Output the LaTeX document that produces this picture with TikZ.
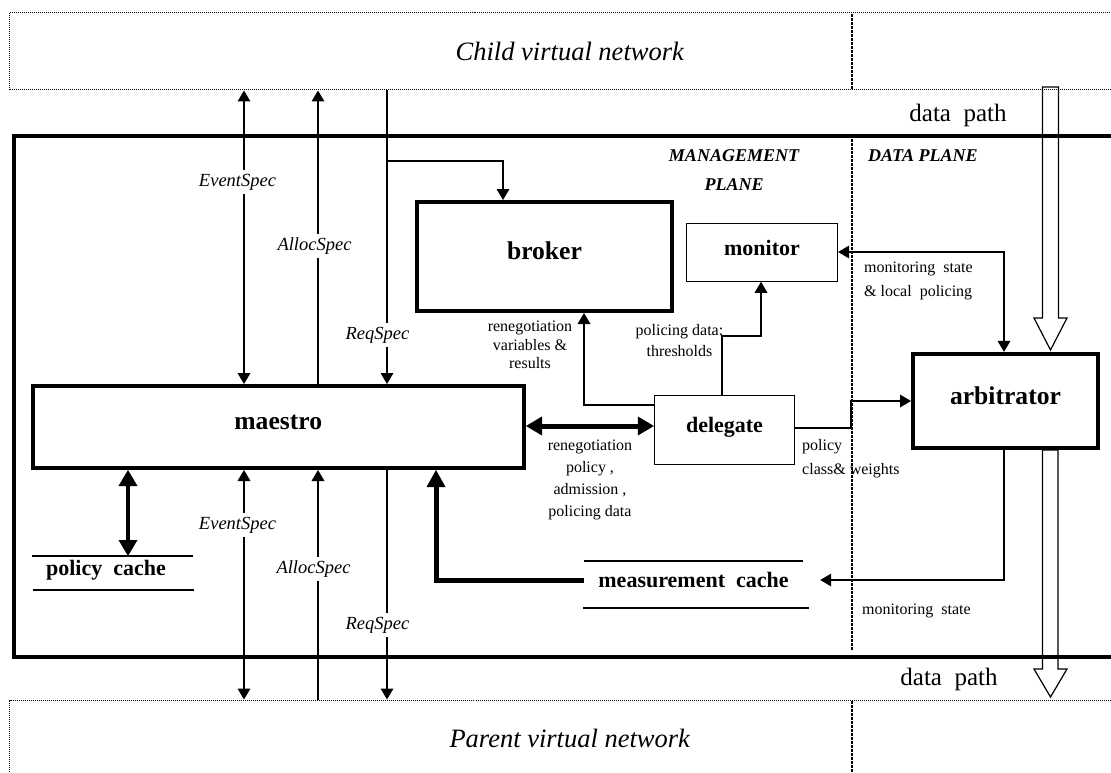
\documentclass[tikz,border=0pt]{standalone}
\usepackage{fontspec}
\setmainfont{Liberation Serif}
\usetikzlibrary{arrows.meta}

\tikzset{
  netbox/.style={draw, line width=1pt, dash pattern=on 1pt off 1pt, inner sep=0pt,
                 font=\fontsize{26.5}{30}\selectfont\itshape},
  planeline/.style={line width=2pt, dash pattern=on 3pt off 1pt},
  frame/.style={draw, line width=4pt, inner sep=0pt},
  block/.style={draw, line width=4pt, inner sep=0pt, text height=0.7em, text depth=0.12em,
                font=\fontsize{25.6}{28}\selectfont\bfseries},
  unit/.style={draw, line width=1.2pt, inner sep=0pt, text height=0.7em, text depth=0.12em,
               font=\fontsize{22}{26}\selectfont\bfseries},
  cache/.style={inner sep=0pt, font=\fontsize{22}{26}\selectfont\bfseries},
  spec/.style={fill=white, inner xsep=1pt, inner ysep=4pt,
               font=\fontsize{18.5}{22}\selectfont\itshape},
  note/.style={inner sep=0pt, font=\fontsize{16}{#1}\selectfont},
  note/.default=20pt,
  plane/.style={inner sep=0pt, font=\fontsize{18}{29}\selectfont\bfseries\itshape},
  pathlbl/.style={inner sep=0pt, font=\fontsize{25}{28}\selectfont},
  flow/.style={line width=1.2pt},
  heavy/.style={line width=5pt},
  fwd/.style={-{Triangle[length=11pt,width=13pt,line width=0pt]}},
  both/.style={{Triangle[length=11pt,width=13pt,line width=0pt]}-{Triangle[length=11pt,width=13pt,line width=0pt]}},
  heavyfwd/.style={-{Triangle[length=17pt,width=19pt,line width=0pt]}},
  heavyboth/.style={{Triangle[length=16pt,width=19pt,line width=0pt]}-{Triangle[length=16pt,width=19pt,line width=0pt]}},
  hollow/.style={line width=1.2pt, line join=miter}
}

\begin{document}
\begin{tikzpicture}[x=1pt,y=-1pt]
\useasboundingbox (0,0) rectangle (1111,773);
\clip (0,0) rectangle (1111,773);

% surrounding networks and the router frame
\node[netbox, minimum width=1120.5pt, minimum height=77pt] (child) at (569.75,51.5) {Child virtual network};
\node[netbox, minimum width=1120.5pt, minimum height=76pt] (parent) at (569.75,738) {Parent virtual network};
\node[frame, minimum width=1111pt, minimum height=520.5pt] (frame) at (569.5,396.75) {};

% management / data plane separator
\draw[planeline] (852,14) -- (852,90);
\draw[planeline] (852,139) -- (852,651);
\draw[planeline] (852,701) -- (852,773);

\node[plane, align=center] (mgmt) at (734,170.5) {MANAGEMENT\\PLANE};
\node[plane, anchor=west] (dataplane) at (868,156) {DATA PLANE};

% components
\node[block, minimum width=255pt, minimum height=109pt] (broker) at (544.5,256.5) {broker};
\node[block, minimum width=491.5pt, minimum height=82pt] (maestro) at (278.25,427) {maestro};
\node[block, text depth=0pt, minimum width=185pt, minimum height=94.3pt] (arbitrator) at (1005.5,401) {arbitrator};
\node[unit, minimum width=151pt, minimum height=58pt] (monitor) at (762,252.2) {monitor};
\node[unit, minimum width=140pt, minimum height=69pt] (delegate) at (724.5,430) {delegate};

% data stores
\node[cache] (pcache) at (106,570) {policy~ cache};
\draw[flow] (32,556) -- (193,556);
\draw[flow] (33,590) -- (194,590);
\node[cache, minimum width=219pt] (mcache) at (693.5,580) {measurement~ cache};
\draw[flow] (584,561) -- (803,561);
\draw[flow] (583,608) -- (809,608);

% data path
\draw[hollow] (1042.5,87) -- (1042.5,318) -- (1034,318) -- (1050.5,350) -- (1067,318) -- (1058.5,318) -- (1058.5,87) -- cycle;
\draw[hollow] (1042.5,450) -- (1042.5,669) -- (1034,669) -- (1050.5,697) -- (1067,669) -- (1058,669) -- (1058,450) -- cycle;
\node[pathlbl] (dptop) at (958,115) {data~ path};
\node[pathlbl] (dpbot) at (949,679) {data~ path};

% specification channels
\coordinate (xE) at (244,0);
\coordinate (xA) at (318,0);
\coordinate (xR) at (387,0);
\draw[flow, both] (maestro.north -| xE) -- (child.south -| xE);
\draw[flow, fwd] (maestro.north -| xA) -- (child.south -| xA);
\draw[flow, fwd] (child.south -| xR) -- (maestro.north -| xR);
\coordinate (rb) at (387,161);
\coordinate (rb2) at (503,161);
\draw[flow, fwd] (rb) -- (rb2) -- (broker.north -| rb2);
\draw[flow, both] (maestro.south -| xE) -- (parent.north -| xE);
\draw[flow, fwd] (parent.north -| xA) -- (maestro.south -| xA);
\draw[flow, fwd] (maestro.south -| xR) -- (parent.north -| xR);

\node[spec] (ev1) at (237.5,182) {EventSpec};
\node[spec] (al1) at (314.5,246) {AllocSpec};
\node[spec] (rq1) at (377.5,335) {ReqSpec};
\node[spec] (ev2) at (237.5,525) {EventSpec};
\node[spec] (al2) at (313.5,569) {AllocSpec};
\node[spec] (rq2) at (377.5,625) {ReqSpec};

% heavy control links
\coordinate (hy) at (0,426);
\draw[heavy, heavyboth] (maestro.east |- hy) -- (delegate.west |- hy);
\coordinate (pc) at (128,556);
\draw[line width=4.5pt, heavyboth] (maestro.south -| pc) -- (pc);
\coordinate (mx) at (436,0);
\draw[heavy, heavyfwd] (mcache.west) -| (maestro.south -| mx);

% delegate links
\coordinate (bk) at (584,405);
\draw[flow, fwd] (delegate.west |- bk) -| (broker.south -| bk);
\coordinate (dm1) at (722,336);
\coordinate (dm2) at (761,336);
\draw[flow, fwd] (delegate.north -| dm1) -- (dm1) -- (dm2) -- (monitor.south -| dm2);
\coordinate (da1) at (851,428);
\coordinate (da2) at (851,401);
\draw[flow, fwd] (delegate.east |- da1) -- (da1) -- (da2) -- (arbitrator.west |- da2);

% monitoring links
\coordinate (ma) at (1004,252);
\draw[flow, both] (monitor.east |- ma) -- (ma) -- (arbitrator.north -| ma);
\coordinate (am) at (1004,580);
\coordinate (mctip) at ([xshift=17pt]mcache.east);
\draw[flow, fwd] (arbitrator.south -| am) -- (am) -- (mctip);

% link annotations
\node[note=18.5pt, align=center] (rvr) at (530,345) {renegotiation\\variables \&\\results};
\node[note=21pt, align=center] (pdt) at (679.5,340.5) {policing data:\\thresholds};
\node[note=22pt, align=center] (rpap) at (590,480) {renegotiation\\policy ,\\admission ,\\policing data};
\node[note=24pt, align=left, anchor=west] (pcw) at (802,459) {policy\\class\& weights};
\node[note=24pt, align=left, anchor=west] (msl) at (864,281) {monitoring~ state\\\& local~ policing};
\node[note, anchor=west] (msb) at (862,611) {monitoring~ state};
\end{tikzpicture}
\end{document}
